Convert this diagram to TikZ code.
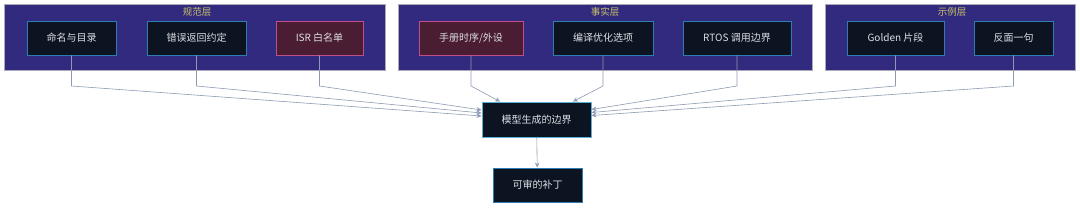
\documentclass[tikz,border=0pt]{standalone}
\usepackage{fontspec}
\setmainfont{Noto Sans CJK SC}
\usetikzlibrary{arrows.meta}
\definecolor{grpfill}{HTML}{312A7E}
\definecolor{grpline}{HTML}{A9A9B8}
\definecolor{nodefill}{HTML}{0D1421}
\definecolor{nodeline}{HTML}{2B7DB3}
\definecolor{pinkfill}{HTML}{4A1D33}
\definecolor{pinkline}{HTML}{C04E8A}
\definecolor{txt}{HTML}{DCDFE6}
\definecolor{ttl}{HTML}{C9C267}
\definecolor{conn}{HTML}{8C9AB2}
\definecolor{mainline}{HTML}{5AB0D6}
\tikzset{
  grp/.style={draw=grpline, fill=grpfill, line width=0.6pt},
  grptitle/.style={text=ttl, font=\fontsize{9.5}{10}\selectfont, inner sep=0pt},
  box/.style={draw=nodeline, fill=nodefill, line width=0.9pt, text=txt,
    font=\fontsize{10}{12}\selectfont, minimum height=34pt, inner sep=0pt},
  pinkbox/.style={box, draw=pinkline, fill=pinkfill},
  mainbox/.style={box, draw=mainline},
  conn/.style={draw=conn, line width=0.6pt, -{Stealth[length=5pt,width=4.5pt]}},
}
\begin{document}
\begin{tikzpicture}[x=1pt,y=-1pt]
\useasboundingbox (0,0) rectangle (1080,207);
% groups
\path[grp] (4,4) rectangle (385,70);
\path[grp] (398,4) rectangle (812,70);
\path[grp] (825,4) rectangle (1075,70);
\node[grptitle] (t1) at (197,12) {规范层};
\node[grptitle] (t2) at (605,12) {事实层};
\node[grptitle] (t3) at (952,12) {示例层};
% nodes
\node[box, minimum width=89pt] (n1) at (71.5,38) {命名与目录};
\node[box, minimum width=99pt] (n2) at (196.5,38) {错误返回约定};
\node[pinkbox, minimum width=87pt] (n3) at (319.5,38) {ISR 白名单};
\node[pinkbox, minimum width=104pt] (n4) at (471,38) {手册时序/外设};
\node[box, minimum width=100pt] (n5) at (603,38) {编译优化选项};
\node[box, minimum width=108pt] (n6) at (737,38) {RTOS 调用边界};
\node[box, minimum width=97pt] (n7) at (895.5,38) {Golden 片段};
\node[box, minimum width=79pt] (n8) at (1013.5,38) {反面一句};
\node[mainbox, minimum width=109pt, minimum height=35pt] (m) at (536.5,119.5) {模型生成的边界};
\node[box, minimum width=89pt] (p) at (537.5,185) {可审的补丁};
% connectors
\draw[conn] (n1.south) -- (n1.south |- 0,86) -- ([yshift=3.5pt]m.west);
\draw[conn] (n2.south) -- (n2.south |- 0,86) -- ([yshift=6.5pt]m.west);
\draw[conn] (n3.south) -- (n3.south |- 0,86) -- ([yshift=9.5pt]m.west);
\draw[conn] (n4.south) -- (n4.south |- 0,86) -- (m.north -| 500,0);
\draw[conn] (n5.south) -- (n5.south |- 0,86) -- (m.north -| 573,0);
\draw[conn] (n6.south) -- (n6.south |- 0,86) -- ([yshift=10pt]m.east);
\draw[conn] (n7.south) -- (n7.south |- 0,86) -- ([yshift=7pt]m.east);
\draw[conn] (n8.south) -- (n8.south |- 0,86) -- ([yshift=4pt]m.east);
\draw[conn] (m) -- (p);
\end{tikzpicture}
\end{document}
